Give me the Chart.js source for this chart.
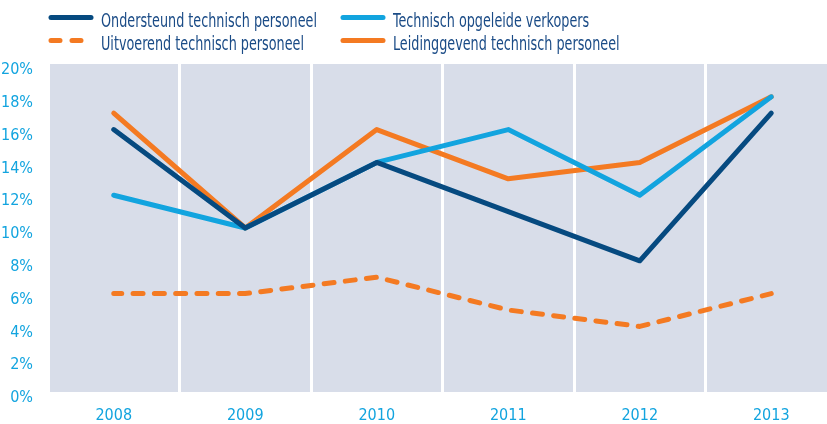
<!DOCTYPE html>
<html lang="nl">
<head>
  <meta charset="UTF-8" />
  <title>Technisch personeel</title>
  <script src="https://cdn.jsdelivr.net/npm/chart.js"></script>
  <style>
    html, body {
      margin: 0;
      padding: 0;
      background-color: #ffffff;
      width: 827px;
      height: 424px;
      overflow: hidden;
    }
    #chart-container {
      position: relative;
      width: 837px;
      height: 424px;
    }
  </style>
</head>
<body>
  <div id="chart-container">
    <canvas id="jobChart"></canvas>
  </div>

  <script>
    const years = ['2008', '2009', '2010', '2011', '2012', '2013'];
    const ondersteund = [16, 10, 14, 11, 8, 17];
    const verkopers = [12, 10, 14, 16, 12, 18];
    const uitvoerend = [6, 6, 7, 5, 4, 6];
    const leidinggevend = [17, 10, 16, 13, 14, 18];
    const yTicks = [0, 2, 4, 6, 8, 10, 12, 14, 16, 18, 20];

    const navy = '#064a80';
    const cyan = '#12a4df';
    const orange = '#f47a22';
    const textBlue = '#1a4b86';
    const fontName = '"DejaVu Sans Condensed", "Liberation Sans Narrow", sans-serif';

    // plot background
    Chart.register({
      id: 'plotBackground',
      beforeDraw: (chart) => {
        const { ctx, chartArea } = chart;
        ctx.save();
        ctx.fillStyle = '#d8dde9';
        ctx.fillRect(chartArea.left, chartArea.top, chartArea.right - chartArea.left, chartArea.bottom - chartArea.top);
        ctx.restore();
      }
    });

    // two-column legend at the top, text squeezed to a condensed look
    Chart.register({
      id: 'gridLegend',
      afterDraw: (chart) => {
        const ctx = chart.ctx;
        const slots = [
          { i: 0, x: 49, y: 22 },
          { i: 1, x: 341, y: 22 },
          { i: 2, x: 49, y: 45 },
          { i: 3, x: 341, y: 45 }
        ];
        ctx.save();
        ctx.font = '19px ' + fontName;
        const squeeze = 216 / ctx.measureText(chart.data.datasets[0].label).width;
        slots.forEach(s => {
          const ds = chart.data.datasets[s.i];
          const ly = s.y - 4.5;
          ctx.beginPath();
          ctx.lineWidth = 5;
          ctx.lineCap = 'round';
          ctx.strokeStyle = ds.borderColor;
          ctx.setLineDash(ds.borderDash && ds.borderDash.length ? [9, 12] : []);
          ctx.moveTo(s.x + 2, ly);
          ctx.lineTo(s.x + 42, ly);
          ctx.stroke();
          ctx.setLineDash([]);

          ctx.save();
          ctx.translate(s.x + 52, s.y);
          ctx.scale(squeeze, 1);
          ctx.fillStyle = textBlue;
          ctx.textBaseline = 'middle';
          ctx.textAlign = 'left';
          ctx.fillText(ds.label, 0, 0);
          ctx.restore();
        });
        ctx.restore();
      }
    });

    const lineStyle = {
      borderWidth: 5,
      pointRadius: 0,
      pointHoverRadius: 0,
      borderJoinStyle: 'round',
      borderCapStyle: 'round',
      tension: 0,
      fill: false
    };

    new Chart(document.getElementById('jobChart'), {
      type: 'line',
      data: {
        labels: years,
        datasets: [
          { ...lineStyle, label: 'Ondersteund technisch personeel', data: ondersteund, borderColor: navy, order: 1 },
          { ...lineStyle, label: 'Technisch opgeleide verkopers', data: verkopers, borderColor: cyan, order: 2 },
          { ...lineStyle, label: 'Uitvoerend technisch personeel', data: uitvoerend, borderColor: orange, borderDash: [10, 11.3], borderDashOffset: 2, order: 4 },
          { ...lineStyle, label: 'Leidinggevend technisch personeel', data: leidinggevend, borderColor: orange, order: 3 }
        ]
      },
      options: {
        responsive: true,
        maintainAspectRatio: false,
        animation: false,
        layout: { padding: { top: 64, right: 0, bottom: 0, left: 0 } },
        plugins: {
          legend: { display: false },
          tooltip: { enabled: false }
        },
        scales: {
          x: {
            offset: true,
            afterFit: (scale) => { scale.height = 32; },
            border: { display: false },
            grid: {
              color: '#ffffff',
              lineWidth: 3,
              drawTicks: false,
              offset: true
            },
            ticks: {
              color: cyan,
              padding: 14,
              font: { family: fontName, size: 16 }
            }
          },
          y: {
            min: 0,
            max: 20,
            afterFit: (scale) => { scale.width = 48; },
            afterBuildTicks: (scale) => { scale.ticks = yTicks.map(v => ({ value: v })); },
            border: { display: false },
            grid: { display: false },
            ticks: {
              color: cyan,
              padding: 7,
              labelOffset: 6,
              font: { family: fontName, size: 16 },
              callback: (v) => v + '%'
            }
          }
        }
      }
    });
  </script>
</body>
</html>
